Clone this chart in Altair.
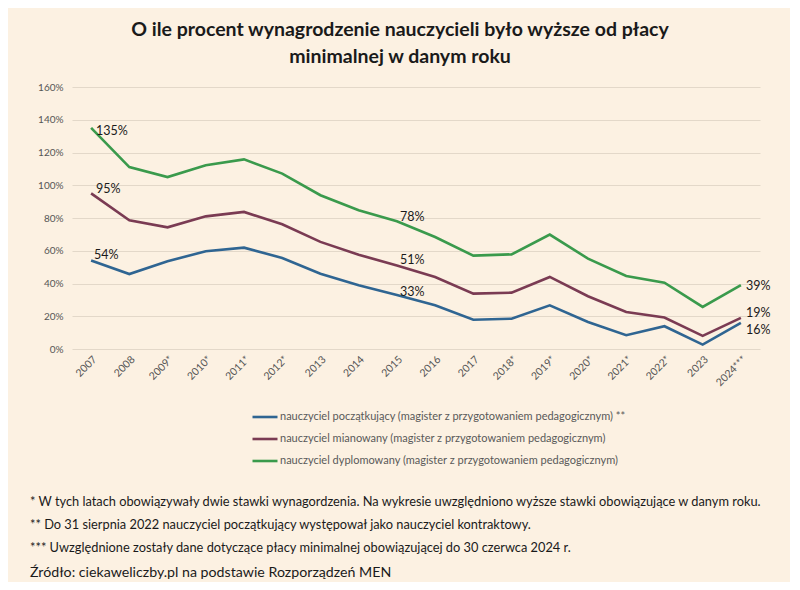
import altair as alt
import pandas as pd

years = ["2007", "2008", "2009*", "2010*", "2011*", "2012*", "2013", "2014", "2015",
         "2016", "2017", "2018*", "2019*", "2020*", "2021*", "2022*", "2023", "2024***"]
poczatkujacy = [54, 45.8, 53.6, 59.7, 61.9, 55.6, 46.0, 38.9, 33, 26.7, 17.9, 18.5, 26.7, 16.5, 8.4, 13.9, 2.7, 16]
mianowany = [95, 78.6, 74.3, 81.0, 83.7, 76.2, 65.4, 57.6, 51, 44.0, 33.8, 34.4, 44.0, 32.2, 22.6, 19.2, 8.0, 19]
dyplomowany = [135, 111.1, 105, 112.2, 115.8, 107.1, 93.9, 84.7, 78, 68.4, 57.0, 57.8, 69.9, 55.2, 44.6, 40.5, 25.7, 39]

series_names = [
    "nauczyciel początkujący (magister z przygotowaniem pedagogicznym) **",
    "nauczyciel mianowany (magister z przygotowaniem pedagogicznym)",
    "nauczyciel dyplomowany (magister z przygotowaniem pedagogicznym)",
]
series_values = [poczatkujacy, mianowany, dyplomowany]
colors = ["#2F6592", "#7A3B53", "#3A9A4C"]
y_ticks = [0, 0.2, 0.4, 0.6, 0.8, 1.0, 1.2, 1.4, 1.6]

# labelled points: (year index, series index, text)
label_points = [(0, 2, "135%"), (0, 1, "95%"), (0, 0, "54%"),
                (8, 2, "78%"), (8, 1, "51%"), (8, 0, "33%"),
                (17, 2, "39%"), (17, 1, "19%"), (17, 0, "16%")]
label_offsets = [(5, 3), (5, -4), (3, -6), (3, -4), (3, -5), (3, -3), (5, 1), (5, -5), (5, 7)]

title_lines = ["O ile procent wynagrodzenie nauczycieli było wyższe od płacy",
               "minimalnej w danym roku"]
footnotes = [
    "* W tych latach obowiązywały dwie stawki wynagordzenia. Na wykresie uwzględniono wyższe stawki obowiązujące w danym roku.",
    "** Do 31 sierpnia 2022 nauczyciel początkujący występował jako nauczyciel kontraktowy.",
    "*** Uwzględnione zostały dane dotyczące płacy minimalnej obowiązującej do 30 czerwca 2024 r.",
]
source = "Źródło: ciekaweliczby.pl na podstawie Rozporządzeń MEN"

FONT = "Lato"
BG = "#FCF1E2"

rows = []
for name, vals in zip(series_names, series_values):
    for y, v in zip(years, vals):
        rows.append({"rok": y, "v": v / 100, "seria": name})
df = pd.DataFrame(rows)

x_enc = alt.X("rok:O", sort=years,
              scale=alt.Scale(type="point", padding=0.5),
              axis=alt.Axis(title=None, labelAngle=-45, ticks=False, domain=False, grid=False,
                            labelFont=FONT, labelFontSize=10.5, labelColor="#555555", labelPadding=5))
y_enc = alt.Y("v:Q", scale=alt.Scale(domain=[0, 1.6], nice=False),
              axis=alt.Axis(title=None, values=y_ticks, labelOverlap=False,
                            format=".0%", grid=True, gridColor="#E3D8C9", gridWidth=1,
                            domain=False, ticks=False, labelFont=FONT, labelFontSize=10,
                            labelColor="#555555", labelPadding=9))

lines = alt.Chart(df).mark_line(strokeWidth=2.6).encode(
    x=x_enc, y=y_enc,
    color=alt.Color("seria:N", sort=series_names,
                    scale=alt.Scale(domain=series_names, range=colors),
                    legend=alt.Legend(title=None, orient="none", legendX=179, legendY=316,
                                      direction="vertical", symbolType="stroke",
                                      symbolStrokeWidth=2.6, symbolSize=625, rowPadding=2,
                                      labelFont=FONT, labelFontSize=11, labelColor="#595959",
                                      labelOffset=1, labelLimit=500)),
)

layers = [lines]
for (yi, si, txt), (dx, dy) in zip(label_points, label_offsets):
    ldf = pd.DataFrame({"rok": [years[yi]], "v": [series_values[si][yi] / 100], "t": [txt]})
    layers.append(alt.Chart(ldf).mark_text(align="left", baseline="middle", dx=dx, dy=dy,
                                           font=FONT, fontSize=12.5, color="#1A1A1A").encode(
        x=x_enc, y=y_enc, text="t:N"))

one = pd.DataFrame({"a": [0]})
for i, line in enumerate(title_lines):
    layers.append(alt.Chart(one).mark_text(text=line, align="center", baseline="middle",
                                           font=FONT, fontSize=19.5, fontWeight="bold",
                                           color="#1A1A1A").encode(
        x=alt.value(328), y=alt.value(-57 + 27 * i)))
for i, line in enumerate(footnotes):
    layers.append(alt.Chart(one).mark_text(text=line, align="left", baseline="middle",
                                           font=FONT, fontSize=12.8, color="#1A1A1A").encode(
        x=alt.value(-42), y=alt.value(415 + 23 * i)))
layers.append(alt.Chart(one).mark_text(text=source, align="left", baseline="middle",
                                       font=FONT, fontSize=14.2, color="#1A1A1A").encode(
    x=alt.value(-42), y=alt.value(486)))

chart = alt.layer(*layers).properties(
    width=688, height=262,
    autosize=alt.AutoSizeParams(type="none"),
    padding={"left": 64, "top": 79, "right": 30, "bottom": 233},
    background=BG,
).configure_view(stroke=None)

chart.save("out.html", embed_options={"renderer": "svg", "actions": False})
